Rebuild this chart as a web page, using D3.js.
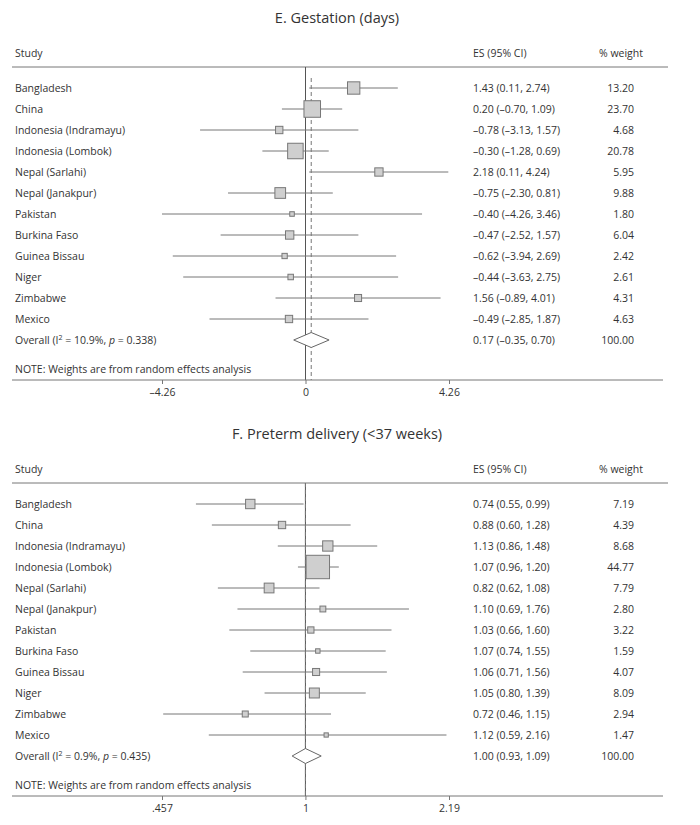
<!DOCTYPE html>
<html><head><meta charset="utf-8">
<script src="https://cdn.jsdelivr.net/npm/d3@7"></script>
<style>
body{margin:0;background:#fff;}
text{font-family:"Open Sans",sans-serif;fill:#333;}
</style></head>
<body><svg id="c" width="700" height="825"></svg>
<script>
const studies = ["Bangladesh","China","Indonesia (Indramayu)","Indonesia (Lombok)","Nepal (Sarlahi)","Nepal (Janakpur)","Pakistan","Burkina Faso","Guinea Bissau","Niger","Zimbabwe","Mexico"];

// Panel E: Gestation (days)
const gestES    = [1.43, 0.20, -0.78, -0.30, 2.18, -0.75, -0.40, -0.47, -0.62, -0.44, 1.56, -0.49];
const gestLo    = [0.11, -0.70, -3.13, -1.28, 0.11, -2.30, -4.26, -2.52, -3.94, -3.63, -0.89, -2.85];
const gestHi    = [2.74, 1.09, 1.57, 0.69, 4.24, 0.81, 3.46, 1.57, 2.69, 2.75, 4.01, 1.87];
const gestW     = [13.20, 23.70, 4.68, 20.78, 5.95, 9.88, 1.80, 6.04, 2.42, 2.61, 4.31, 4.63];
const gestOverall = [0.17, -0.35, 0.70, 100.00];
const gestTicks = [-4.26, 0, 4.26];

// Panel F: Preterm delivery (<37 weeks)
const pretES    = [0.74, 0.88, 1.13, 1.07, 0.82, 1.10, 1.03, 1.07, 1.06, 1.05, 0.72, 1.12];
const pretLo    = [0.55, 0.60, 0.86, 0.96, 0.62, 0.69, 0.66, 0.74, 0.71, 0.80, 0.46, 0.59];
const pretHi    = [0.99, 1.28, 1.48, 1.20, 1.08, 1.76, 1.60, 1.55, 1.56, 1.39, 1.15, 2.16];
const pretW     = [7.19, 4.39, 8.68, 44.77, 7.79, 2.80, 3.22, 1.59, 4.07, 8.09, 2.94, 1.47];
const pretOverall = [1.00, 0.93, 1.09, 100.00];
const pretTicks = [0.457, 1, 2.19];

const svg = d3.select("#c");
const dash = s => s.replace(/-/g, "\u2013");
const f2 = v => dash(v.toFixed(2));
const FS = "10.5px";

function panel(cfg){
  const g = svg.append("g").attr("transform", `translate(0,${cfg.top})`);
  const x = cfg.x;
  const rowH = 21, y0 = 88;
  const yRow = i => y0 + i*rowH;
  const nS = studies.length;
  const yOv = yRow(nS);
  const axisY = 380;
  const side = d3.scaleSqrt().domain([0,100]).range([0, cfg.k]);

  g.append("text").attr("x", 337).attr("y", 23).attr("text-anchor","middle")
    .style("font-size","14.5px").text(cfg.title);
  g.append("text").attr("x",15).attr("y",57).style("font-size",FS).text("Study");
  g.append("text").attr("x",473).attr("y",57).style("font-size",FS).text("ES (95% CI)");
  g.append("text").attr("x",643).attr("y",57).attr("text-anchor","end").style("font-size",FS).text("% weight");
  g.append("line").attr("x1",12).attr("x2",668).attr("y1",67).attr("y2",67).attr("stroke","#777").attr("stroke-width",1);

  // null line
  g.append("line").attr("x1",x(cfg.nullv)).attr("x2",x(cfg.nullv)).attr("y1",67).attr("y2",axisY)
    .attr("stroke","#555").attr("stroke-width",1);
  // overall dashed line
  g.append("line").attr("x1",x(cfg.ov[0])).attr("x2",x(cfg.ov[0])).attr("y1",cfg.dashTop).attr("y2",axisY)
    .attr("stroke","#777").attr("stroke-width",1).attr("stroke-dasharray","4,3");

  for(let i=0;i<nS;i++){
    const y = yRow(i);
    g.append("text").attr("x",15).attr("y",y+4).style("font-size",FS).text(studies[i]);
    g.append("line").attr("x1",x(cfg.lo[i])).attr("x2",x(cfg.hi[i])).attr("y1",y).attr("y2",y)
      .attr("stroke","#777").attr("stroke-width",1);
    const s = side(cfg.w[i]);
    g.append("rect").attr("x",x(cfg.es[i])-s/2).attr("y",y-s/2).attr("width",s).attr("height",s)
      .attr("fill","#cfcfcf").attr("stroke","#777").attr("stroke-width",1);
    g.append("text").attr("x",473).attr("y",y+4).style("font-size",FS)
      .text(`${f2(cfg.es[i])} (${f2(cfg.lo[i])}, ${f2(cfg.hi[i])})`);
    g.append("text").attr("x",634).attr("y",y+4).attr("text-anchor","end").style("font-size",FS)
      .text(cfg.w[i].toFixed(2));
  }
  // overall
  const ot = g.append("text").attr("x",15).attr("y",yOv+4).style("font-size",FS);
  ot.append("tspan").text("Overall (I");
  ot.append("tspan").attr("dy",-4).style("font-size","7px").text("2");
  ot.append("tspan").attr("dy",4).text(` = ${cfg.i2}%, `);
  ot.append("tspan").style("font-style","italic").text("p");
  ot.append("tspan").text(` = ${cfg.p})`);
  const [oe, ol, oh, ow] = cfg.ov;
  g.append("path").attr("d",`M${x(ol)},${yOv} L${x(oe)},${yOv-7.5} L${x(oh)},${yOv} L${x(oe)},${yOv+7.5} Z`)
    .attr("fill","#fff").attr("stroke","#666").attr("stroke-width",1);
  g.append("text").attr("x",473).attr("y",yOv+4).style("font-size",FS).text(`${f2(oe)} (${f2(ol)}, ${f2(oh)})`);
  g.append("text").attr("x",634).attr("y",yOv+4).attr("text-anchor","end").style("font-size",FS).text(ow.toFixed(2));

  g.append("text").attr("x",15).attr("y",373).style("font-size",FS).text("NOTE: Weights are from random effects analysis");

  // axis
  g.append("line").attr("x1",12).attr("x2",663).attr("y1",axisY).attr("y2",axisY).attr("stroke","#777");
  const ax = g.append("g").attr("transform",`translate(0,${axisY})`)
    .call(d3.axisBottom(x).tickValues(cfg.ticks).tickSize(4).tickPadding(5).tickFormat(cfg.fmt));
  ax.select(".domain").remove();
  ax.selectAll(".tick line").attr("stroke","#777");
  ax.selectAll(".tick text").style("font-size",FS).style("font-family","'Open Sans',sans-serif").attr("fill","#333");
}

panel({
  top:0, title:"E. Gestation (days)",
  x: d3.scaleLinear().domain([gestTicks[0], gestTicks[2]]).range([162,449]),
  es:gestES, lo:gestLo, hi:gestHi, w:gestW, ov:gestOverall, ticks:gestTicks, nullv:0,
  i2:"10.9", p:"0.338", k:34, dashTop:78,
  fmt: d => d===0 ? "0" : dash(d.toFixed(2))
});
panel({
  top:416, title:"F. Preterm delivery (<37 weeks)",
  x: d3.scaleLog().domain([pretTicks[0], pretTicks[2]]).range([162,449]),
  es:pretES, lo:pretLo, hi:pretHi, w:pretW, ov:pretOverall, ticks:pretTicks, nullv:1,
  i2:"0.9", p:"0.435", k:35, dashTop:67,
  fmt: d => d===1 ? "1" : (d<1 ? String(d).replace(/^0/,"") : String(d))
});
</script></body></html>
